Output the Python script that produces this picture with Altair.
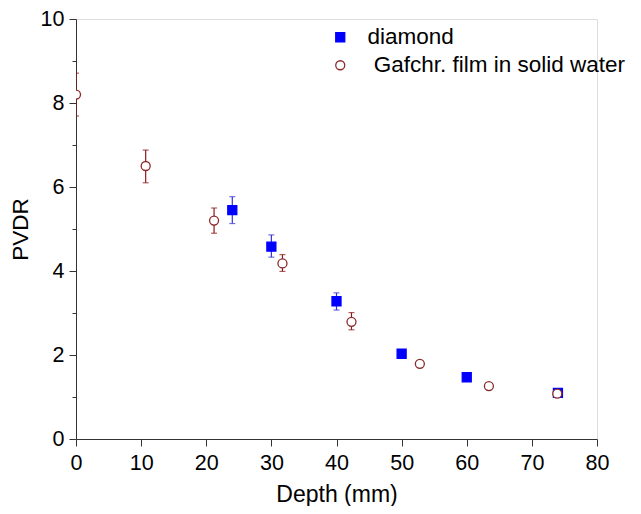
import altair as alt
import pandas as pd

# ---- data ----
diamond_depth = [24, 30, 40, 50, 60, 74]
diamond_pvdr = [5.45, 4.58, 3.28, 2.03, 1.47, 1.10]
diamond_lo = [5.13, 4.33, 3.07, None, None, None]
diamond_hi = [5.77, 4.86, 3.48, None, None, None]

film_depth = [0, 10.7, 21.2, 31.7, 42.3, 52.8, 63.4, 73.9]
film_pvdr = [8.2, 6.5, 5.2, 4.18, 2.79, 1.79, 1.26, 1.08]
film_lo = [7.69, 6.1, 4.9, 3.99, 2.6, None, None, None]
film_hi = [8.71, 6.88, 5.5, 4.39, 3.01, None, None, None]

series_names = ["diamond", "\u200b\u00a0Gafchr. film in solid water"]

rows = []
for d, v, lo, hi in zip(diamond_depth, diamond_pvdr, diamond_lo, diamond_hi):
    rows.append({"depth": d, "pvdr": v, "lo": lo, "hi": hi, "series": series_names[0]})
for d, v, lo, hi in zip(film_depth, film_pvdr, film_lo, film_hi):
    rows.append({"depth": d, "pvdr": v, "lo": lo, "hi": hi, "series": series_names[1]})
df = pd.DataFrame(rows)

FONT = "Liberation Sans"
BLUE = "#0000ff"
BROWN = "#8b2a2a"

xscale = alt.Scale(domain=[0, 80], nice=False)
yscale = alt.Scale(domain=[0, 10], nice=False)

major_minor = lambda step: {"condition": {"test": f"datum.value % {step} === 0", "value": 7}, "value": 4}

xaxis = alt.Axis(
    values=list(range(0, 81, 5)),
    labelExpr="datum.value % 10 === 0 ? datum.label : ''",
    title="Depth (mm)",
    grid=False, labelFlush=False,
    labelFont=FONT, labelFontSize=21.5, labelColor="black", labelPadding=6,
    titleFont=FONT, titleFontSize=23, titleFontWeight="normal", titleColor="black", titlePadding=10,
    domainColor="#333333", tickColor="#333333", tickSize=major_minor(10),
)
yaxis = alt.Axis(
    values=list(range(0, 11, 1)),
    labelExpr="datum.value % 2 === 0 ? datum.label : ''",
    title="PVDR",
    grid=False, labelFlush=False,
    labelFont=FONT, labelFontSize=21.5, labelColor="black", labelPadding=5,
    titleFont=FONT, titleFontSize=22.5, titleFontWeight="normal", titleColor="black", titlePadding=8,
    domainColor="#333333", tickColor="#333333", tickSize=major_minor(2),
)

base = alt.Chart(df)

x_enc = alt.X("depth:Q", scale=xscale, axis=xaxis)
y_enc = alt.Y("pvdr:Q", scale=yscale, axis=yaxis)


def errbars(name, col):
    src = base.transform_filter(alt.datum.series == name).transform_filter("isValid(datum.lo)")
    rule = src.mark_rule(color=col, strokeWidth=1.2, clip=True).encode(
        x=alt.X("depth:Q", scale=xscale), y=alt.Y("lo:Q", scale=yscale), y2="hi:Q"
    )
    cap_lo = src.mark_tick(color=col, orient="horizontal", size=6, thickness=1.2, clip=True).encode(
        x=alt.X("depth:Q", scale=xscale), y=alt.Y("lo:Q", scale=yscale)
    )
    cap_hi = src.mark_tick(color=col, orient="horizontal", size=6, thickness=1.2, clip=True).encode(
        x=alt.X("depth:Q", scale=xscale), y=alt.Y("hi:Q", scale=yscale)
    )
    return rule + cap_lo + cap_hi


legend = alt.Legend(
    title=None, orient="none", legendX=253, legendY=7,
    labelFont=FONT, labelFontSize=22.5, labelColor="black", labelLimit=400,
    symbolSize=32, symbolStrokeWidth=1.3, rowPadding=5, labelOffset=16, padding=0,
)

points = base.mark_point(filled=False, strokeWidth=1.3, opacity=1, clip=True).encode(
    x=x_enc,
    y=y_enc,
    color=alt.Color("series:N", scale=alt.Scale(domain=series_names, range=[BLUE, BROWN]), legend=legend),
    fill=alt.Fill("series:N", scale=alt.Scale(domain=series_names, range=[BLUE, "white"]), legend=legend),
    shape=alt.Shape("series:N", scale=alt.Scale(domain=series_names, range=["square", "circle"]), legend=legend),
    size=alt.Size("series:N", scale=alt.Scale(domain=series_names, range=[81, 81]), legend=None),
    order=alt.Order("series:N", sort="ascending"),
)

chart = (
    errbars(series_names[0], "#3535d8") + errbars(series_names[1], "#8b1a1a") + points
).properties(
    width=521, height=420,
    autosize=alt.AutoSizeParams(type="none"),
    padding={"left": 68, "top": 11, "right": 36, "bottom": 67},
).configure_view(stroke=None).configure(background="white")

chart.save("out.html", embed_options={"renderer": "svg", "actions": False})
